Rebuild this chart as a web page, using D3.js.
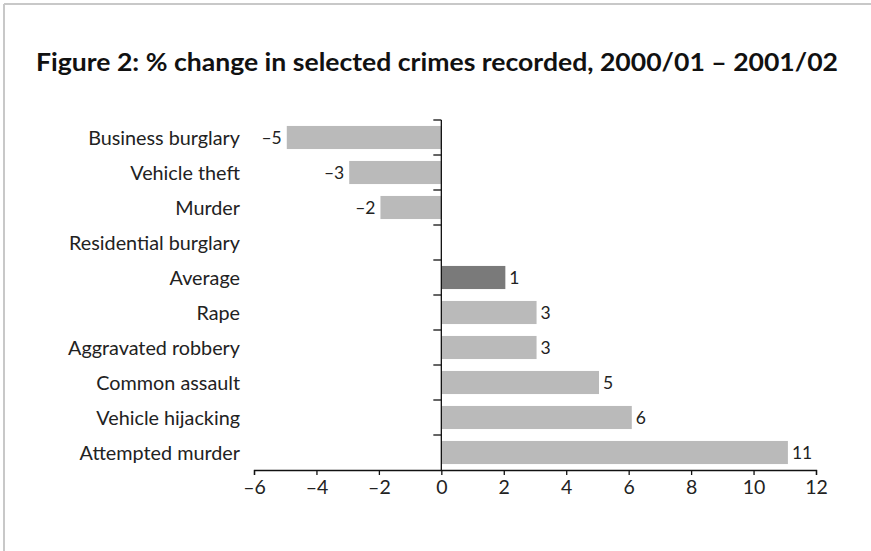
<!DOCTYPE html>
<html><head><meta charset="utf-8">
<script src="https://cdn.jsdelivr.net/npm/d3@7"></script>
<style>
html,body{margin:0;padding:0;background:#fff;overflow:hidden;}
svg{display:block;}
</style></head>
<body>
<script>
const title = "Figure 2: % change in selected crimes recorded, 2000/01 – 2001/02";
const categories = ["Business burglary","Vehicle theft","Murder","Residential burglary","Average","Rape","Aggravated robbery","Common assault","Vehicle hijacking","Attempted murder"];
const values = [-4.95,-2.95,-1.95,0,2.05,3.05,3.05,5.05,6.1,11.1];
const valueLabels = ["–5","–3","–2","","1","3","3","5","6","11"];
const highlight = ["Average"];
const xTicks = [-6,-4,-2,0,2,4,6,8,10,12];

const W = 871, H = 551;
const svg = d3.select("body").append("svg").attr("width", W).attr("height", H);

// frame (top and left edges only visible)
svg.append("line").attr("x1",4).attr("x2",W).attr("y1",4).attr("y2",4)
  .attr("stroke","#c8c8c8").attr("stroke-width",2);
svg.append("line").attr("x1",4).attr("x2",4).attr("y1",4).attr("y2",H)
  .attr("stroke","#c8c8c8").attr("stroke-width",2);

svg.append("text").attr("x",36).attr("y",71)
  .attr("font-family","Lato, 'Open Sans', sans-serif").attr("font-weight","bold")
  .attr("font-size",25.5).attr("fill","#111")
  .attr("textLength",802).attr("lengthAdjust","spacingAndGlyphs")
  .text(title);

const x = d3.scaleLinear().domain([-6,12]).range([254,816]);
const y = d3.scaleBand().domain(categories).range([120,470]).paddingInner(0.34).paddingOuter(0.17);
const font = "Lato, 'Open Sans', sans-serif";

// bars
svg.append("g").selectAll("rect").data(categories).join("rect")
  .attr("x",(d,i)=>x(Math.min(0,values[i])))
  .attr("y",d=>y(d))
  .attr("width",(d,i)=>Math.abs(x(values[i])-x(0)))
  .attr("height",y.bandwidth())
  .attr("fill",d=>highlight.includes(d)?"#7a7a7a":"#bababa");

// value labels
svg.append("g").selectAll("text").data(categories).join("text")
  .attr("x",(d,i)=>values[i]<0 ? x(values[i])-5 : x(values[i])+4)
  .attr("y",d=>y(d)+y.bandwidth()/2)
  .attr("dy","0.36em")
  .attr("text-anchor",(d,i)=>values[i]<0?"end":"start")
  .attr("font-family",font).attr("font-size",17.5).attr("fill","#222")
  .text((d,i)=>valueLabels[i]);

// x axis
const xAxis = d3.axisBottom(x).tickValues(xTicks).tickSize(5).tickPadding(5)
  .tickFormat(d=>String(d).replace("-","–"));
const gx = svg.append("g").attr("transform","translate(0,470)").call(xAxis);
gx.select(".domain").attr("stroke","#111").attr("stroke-width",1.3);
gx.selectAll(".tick line").attr("stroke","#111").attr("stroke-width",1.3);
gx.selectAll("text").attr("font-family",font).attr("font-size",19.5).attr("fill","#222");

// y axis at zero (ticks at band boundaries)
const boundaries = categories.map(c=>y(c)-y.step()*y.paddingInner()/2);
const gy = svg.append("g");
gy.append("line").attr("x1",x(0)).attr("x2",x(0)).attr("y1",120).attr("y2",470)
  .attr("stroke","#111").attr("stroke-width",1.3);
gy.selectAll("line.tk").data(boundaries).join("line").attr("class","tk")
  .attr("x1",x(0)-8).attr("x2",x(0)).attr("y1",d=>d).attr("y2",d=>d)
  .attr("stroke","#111").attr("stroke-width",1.3);

// category labels
svg.append("g").selectAll("text").data(categories).join("text")
  .attr("x",240).attr("y",d=>y(d)+y.bandwidth()/2).attr("dy","0.36em")
  .attr("text-anchor","end")
  .attr("font-family",font).attr("font-size",19.8).attr("fill","#222")
  .text(d=>d);
</script>
</body></html>
